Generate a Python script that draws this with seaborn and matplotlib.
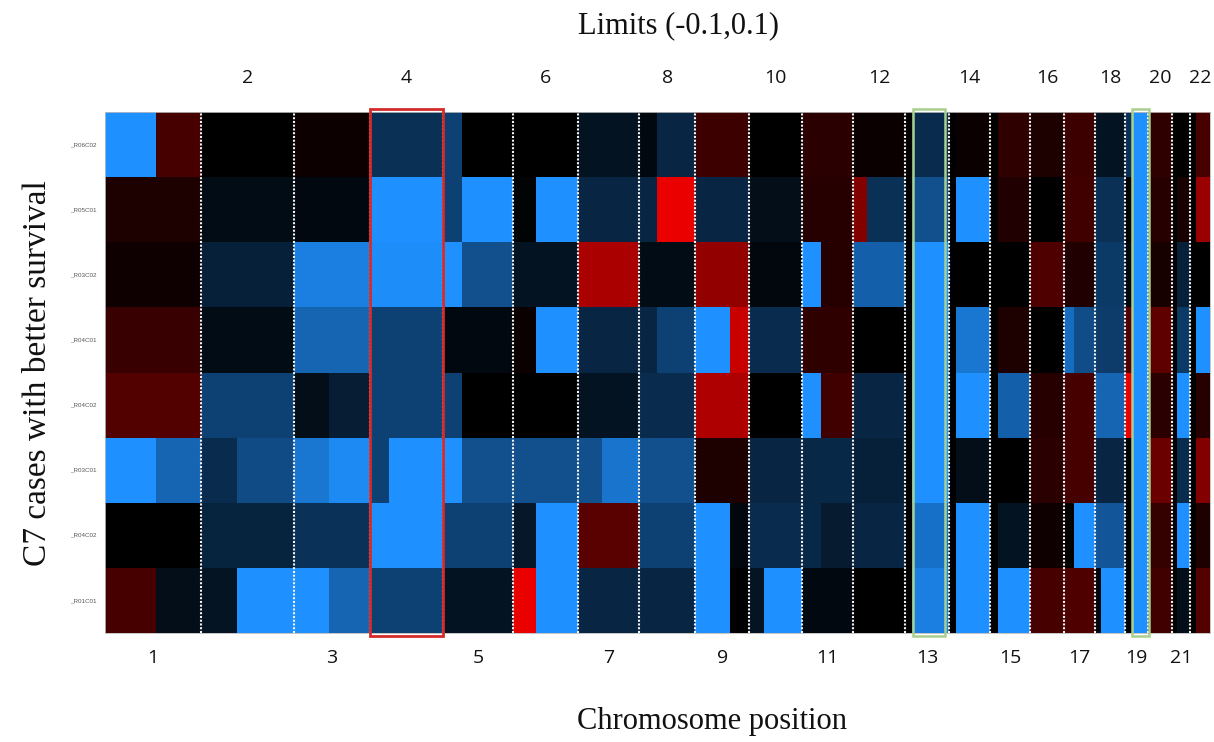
import numpy as np
import matplotlib
matplotlib.use("Agg")
import matplotlib.pyplot as plt
import matplotlib.transforms as mtransforms
from matplotlib.colors import LinearSegmentedColormap
from matplotlib.patches import Rectangle
import seaborn as sns

# Autosome lengths (Mb, hg19, rounded)
CHROMS = list(range(1, 23))
CHROM_MB = [249, 243, 198, 191, 181, 171, 159, 146, 141, 136, 135, 134,
            115, 107, 103, 90, 81, 78, 59, 63, 48, 51]

SAMPLES = ["_R06C02", "_R05C01", "_R03C02", "_R04C01",
           "_R04C02", "_R03C01", "_R04C02", "_R01C01"]

# Segmented copy-number values: (chromosome, start Mb, end Mb or None = chromosome end, value)
SEGS_1 = [(1, 0, 133, -0.1), (1, 133, None, 0.03), (3, 0, None, 0.005), (4, 0, None, -0.033),
          (5, 0, 49, -0.045), (7, 0, None, -0.013), (8, 0, 45, -0.006), (8, 45, None, -0.026),
          (9, 0, None, 0.025), (11, 0, None, 0.018), (12, 0, None, 0.004), (13, 19, None, -0.03),
          (14, 18, None, 0.004), (15, 20, None, 0.02), (16, 0, None, 0.012), (17, 0, None, 0.025),
          (18, 0, None, -0.013), (19, 0, 18, -0.033), (19, 18, None, -0.1), (20, 0, None, 0.02),
          (22, 15, None, 0.03)]
SEGS_2 = [(1, 0, None, 0.012), (2, 0, None, -0.008), (3, 0, None, -0.006), (4, 0, None, -0.1),
          (5, 0, 49, -0.045), (5, 49, None, -0.1), (6, 0, 61, -0.002), (6, 61, None, -0.1),
          (7, 0, None, -0.026), (8, 0, 45, -0.026), (8, 45, None, 0.1), (9, 0, None, -0.026),
          (10, 0, None, -0.01), (11, 0, None, 0.016), (12, 0, 36, 0.055), (12, 36, None, -0.033),
          (13, 19, None, -0.055), (14, 18, None, -0.1), (15, 20, None, 0.014), (17, 0, None, 0.028),
          (18, 0, None, -0.033), (19, 18, None, -0.1), (20, 0, None, 0.016), (21, 14, None, 0.01),
          (22, 15, None, 0.065)]
SEGS_3 = [(1, 0, None, 0.006), (2, 0, None, -0.022), (3, 0, None, -0.088), (4, 0, None, -0.097),
          (5, 0, 49, -0.1), (5, 49, None, -0.055), (6, 0, None, -0.013), (7, 0, None, 0.072),
          (8, 0, None, -0.008), (9, 0, None, 0.062), (10, 0, None, -0.005), (11, 0, 50, -0.1),
          (11, 50, None, 0.016), (12, 0, None, -0.066), (13, 19, None, -0.1), (16, 0, None, 0.033),
          (17, 0, None, 0.014), (18, 0, None, -0.04), (19, 0, 18, -0.005), (19, 18, None, -0.1),
          (20, 0, None, 0.01), (21, 14, None, -0.022)]
SEGS_4 = [(1, 0, None, 0.024), (2, 0, None, -0.008), (3, 0, None, -0.07), (4, 0, None, -0.045),
          (5, 0, None, -0.006), (6, 0, 61, 0.004), (6, 61, None, -0.1), (7, 0, None, -0.026),
          (8, 0, 45, -0.026), (8, 45, None, -0.045), (9, 0, 90, -0.1), (9, 90, None, 0.085),
          (10, 0, None, -0.03), (11, 0, None, 0.02), (13, 19, None, -0.1), (14, 18, None, -0.082),
          (15, 20, None, 0.012), (17, 0, 25, -0.075), (17, 25, None, -0.053), (18, 0, None, -0.042),
          (19, 0, 18, 0.035), (19, 18, None, -0.1), (20, 0, None, 0.04), (21, 14, None, -0.04),
          (22, 15, None, -0.1)]
SEGS_5 = [(1, 0, None, 0.035), (2, 0, None, -0.045), (3, 0, 92, -0.01), (3, 92, None, -0.02),
          (4, 0, None, -0.045), (5, 0, 49, -0.045), (7, 0, None, -0.013), (8, 0, None, -0.03),
          (9, 0, None, 0.074), (11, 0, 50, -0.1), (11, 50, None, 0.028), (12, 0, None, -0.026),
          (13, 19, None, -0.1), (14, 18, None, -0.1), (15, 20, None, -0.066), (16, 0, None, 0.016),
          (17, 0, None, 0.03), (18, 0, None, -0.07), (19, 0, 18, 0.1), (19, 18, None, -0.1),
          (20, 0, None, 0.018), (21, 14, None, -0.1), (22, 15, None, 0.016)]
SEGS_6 = [(1, 0, 133, -0.1), (1, 133, None, -0.07), (2, 0, 94, -0.03), (2, 94, None, -0.052),
          (3, 0, 92, -0.082), (3, 92, None, -0.095), (4, 0, 50, -0.045), (4, 50, None, -0.1),
          (5, 0, 49, -0.1), (5, 49, None, -0.055), (6, 0, None, -0.055), (7, 0, 61, -0.055),
          (7, 61, None, -0.08), (8, 0, None, -0.055), (9, 0, None, 0.012), (10, 0, None, -0.026),
          (11, 0, None, -0.028), (12, 0, None, -0.022), (13, 19, None, -0.1), (14, 18, None, -0.01),
          (16, 0, None, 0.018), (17, 0, None, 0.03), (18, 0, None, -0.026), (19, 18, None, -0.1),
          (20, 0, None, 0.045), (21, 14, None, -0.03), (22, 15, None, 0.055)]
SEGS_7 = [(2, 0, None, -0.025), (3, 0, None, -0.035), (4, 0, None, -0.1), (5, 0, None, -0.045),
          (6, 0, 61, -0.016), (6, 61, None, -0.1), (7, 0, None, 0.038), (8, 0, None, -0.045),
          (9, 0, 90, -0.1), (9, 90, None, -0.005), (10, 0, None, -0.03), (11, 0, 50, -0.028),
          (11, 50, None, -0.018), (12, 0, None, -0.026), (13, 19, None, -0.078), (14, 18, None, -0.1),
          (15, 20, None, -0.013), (16, 0, None, 0.006), (17, 25, None, -0.1), (18, 0, None, -0.06),
          (19, 18, None, -0.1), (20, 0, None, 0.022), (21, 14, None, -0.1), (22, 15, None, 0.012)]
SEGS_8 = [(1, 0, 133, 0.03), (1, 133, None, -0.01), (2, 0, 94, -0.014), (2, 94, None, -0.1),
          (3, 0, 92, -0.1), (3, 92, None, -0.07), (4, 0, None, -0.045), (5, 0, None, -0.013),
          (6, 0, 61, 0.1), (6, 61, None, -0.1), (7, 0, None, -0.026), (8, 0, None, -0.026),
          (9, 0, 90, -0.1), (10, 0, 39, -0.014), (10, 39, None, -0.1), (11, 0, None, -0.006),
          (13, 19, None, -0.088), (14, 18, None, -0.1), (15, 20, None, -0.1), (16, 0, None, 0.03),
          (17, 0, None, 0.033), (18, 0, 16, -0.005), (18, 16, None, -0.1), (19, 18, None, -0.1),
          (20, 0, None, 0.028), (21, 14, None, -0.01), (22, 15, None, 0.035)]

LIMITS = (-0.1, 0.1)
# Highlighted regions: (chromosome, start Mb, width Mb)
RED_BOXES = [(4, 0, 191)]
GREEN_BOXES = [(13, 20, 84), (19, 18, 44)]

# ---- build a 1 Mb resolution matrix ----
offsets = np.concatenate([[0], np.cumsum(CHROM_MB)])
total = int(offsets[-1])
rows = [SEGS_1, SEGS_2, SEGS_3, SEGS_4, SEGS_5, SEGS_6, SEGS_7, SEGS_8]
mat = np.zeros((len(rows), total))
for r, segs in enumerate(rows):
    for chrom, start, end, val in segs:
        i = chrom - 1
        if end is None:
            end = CHROM_MB[i]
        mat[r, int(offsets[i] + start):int(offsets[i] + end)] = val

cmap = LinearSegmentedColormap.from_list(
    "blue_black_red", [(0.0, "#1e90ff"), (0.5, "#000000"), (1.0, "#eb0000")])

sns.set_style("white")
serif = ["Liberation Serif", "DejaVu Serif"]
sans = ["Open Sans", "DejaVu Sans"]

fig = plt.figure(figsize=(12.14, 7.42), dpi=100)
ax = fig.add_axes([105 / 1214, 1 - 633 / 742, 1105 / 1214, 521 / 742])
sns.heatmap(mat, ax=ax, cmap=cmap, vmin=LIMITS[0], vmax=LIMITS[1], cbar=False,
            xticklabels=False, yticklabels=SAMPLES, rasterized=True)
ax.tick_params(axis="y", length=0, pad=6, labelsize=4.5, labelcolor="#555555")
for lab in ax.get_yticklabels():
    lab.set_rotation(0)
    lab.set_family(["Liberation Sans", "DejaVu Sans"])
ax.set_xlabel("")
ax.set_ylabel("")

# chromosome boundaries
for b in offsets[1:-1]:
    ax.axvline(b, color="#f2f2f2", lw=1.5, linestyle=(0, (1.0, 0.8)), zorder=3)

for spine in ax.spines.values():
    spine.set_visible(True)
    spine.set_color("#bbbbbb")
    spine.set_linewidth(0.6)

# highlight boxes
for chrom, start, width in RED_BOXES:
    x0 = offsets[chrom - 1] + start
    ax.add_patch(Rectangle((x0, -0.04), width, len(rows) + 0.08, fill=False,
                           edgecolor="#d42a2a", lw=2.0, clip_on=False, zorder=5))
for chrom, start, width in GREEN_BOXES:
    x0 = offsets[chrom - 1] + start
    ax.add_patch(Rectangle((x0, -0.04), width, len(rows) + 0.08, fill=False,
                           edgecolor="#a9cf8f", lw=1.8, clip_on=False, zorder=5))

# chromosome numbers: even above, odd below
trans = mtransforms.blended_transform_factory(ax.transData, ax.transAxes)
for i, c in enumerate(CHROMS):
    xc = (offsets[i] + offsets[i + 1]) / 2
    y = 1.065 if c % 2 == 0 else -0.048
    ax.text(xc, y, str(c), transform=trans, ha="center", va="center",
            fontsize=14, family=sans, color="#111111")

fig.text(678 / 1214, 1 - 26 / 742, "Limits (-0.1,0.1)", ha="center", va="center",
         fontsize=22, family=serif, color="#111111")
fig.text(712 / 1214, 1 - 721 / 742, "Chromosome position", ha="center", va="center",
         fontsize=22, family=serif, color="#111111")
fig.text(38 / 1214, 1 - 373 / 742, "C7 cases with better survival", ha="center",
         va="center", rotation=90, fontsize=24, family=serif, color="#111111")

fig.savefig("out.png", dpi=100, facecolor="white")
